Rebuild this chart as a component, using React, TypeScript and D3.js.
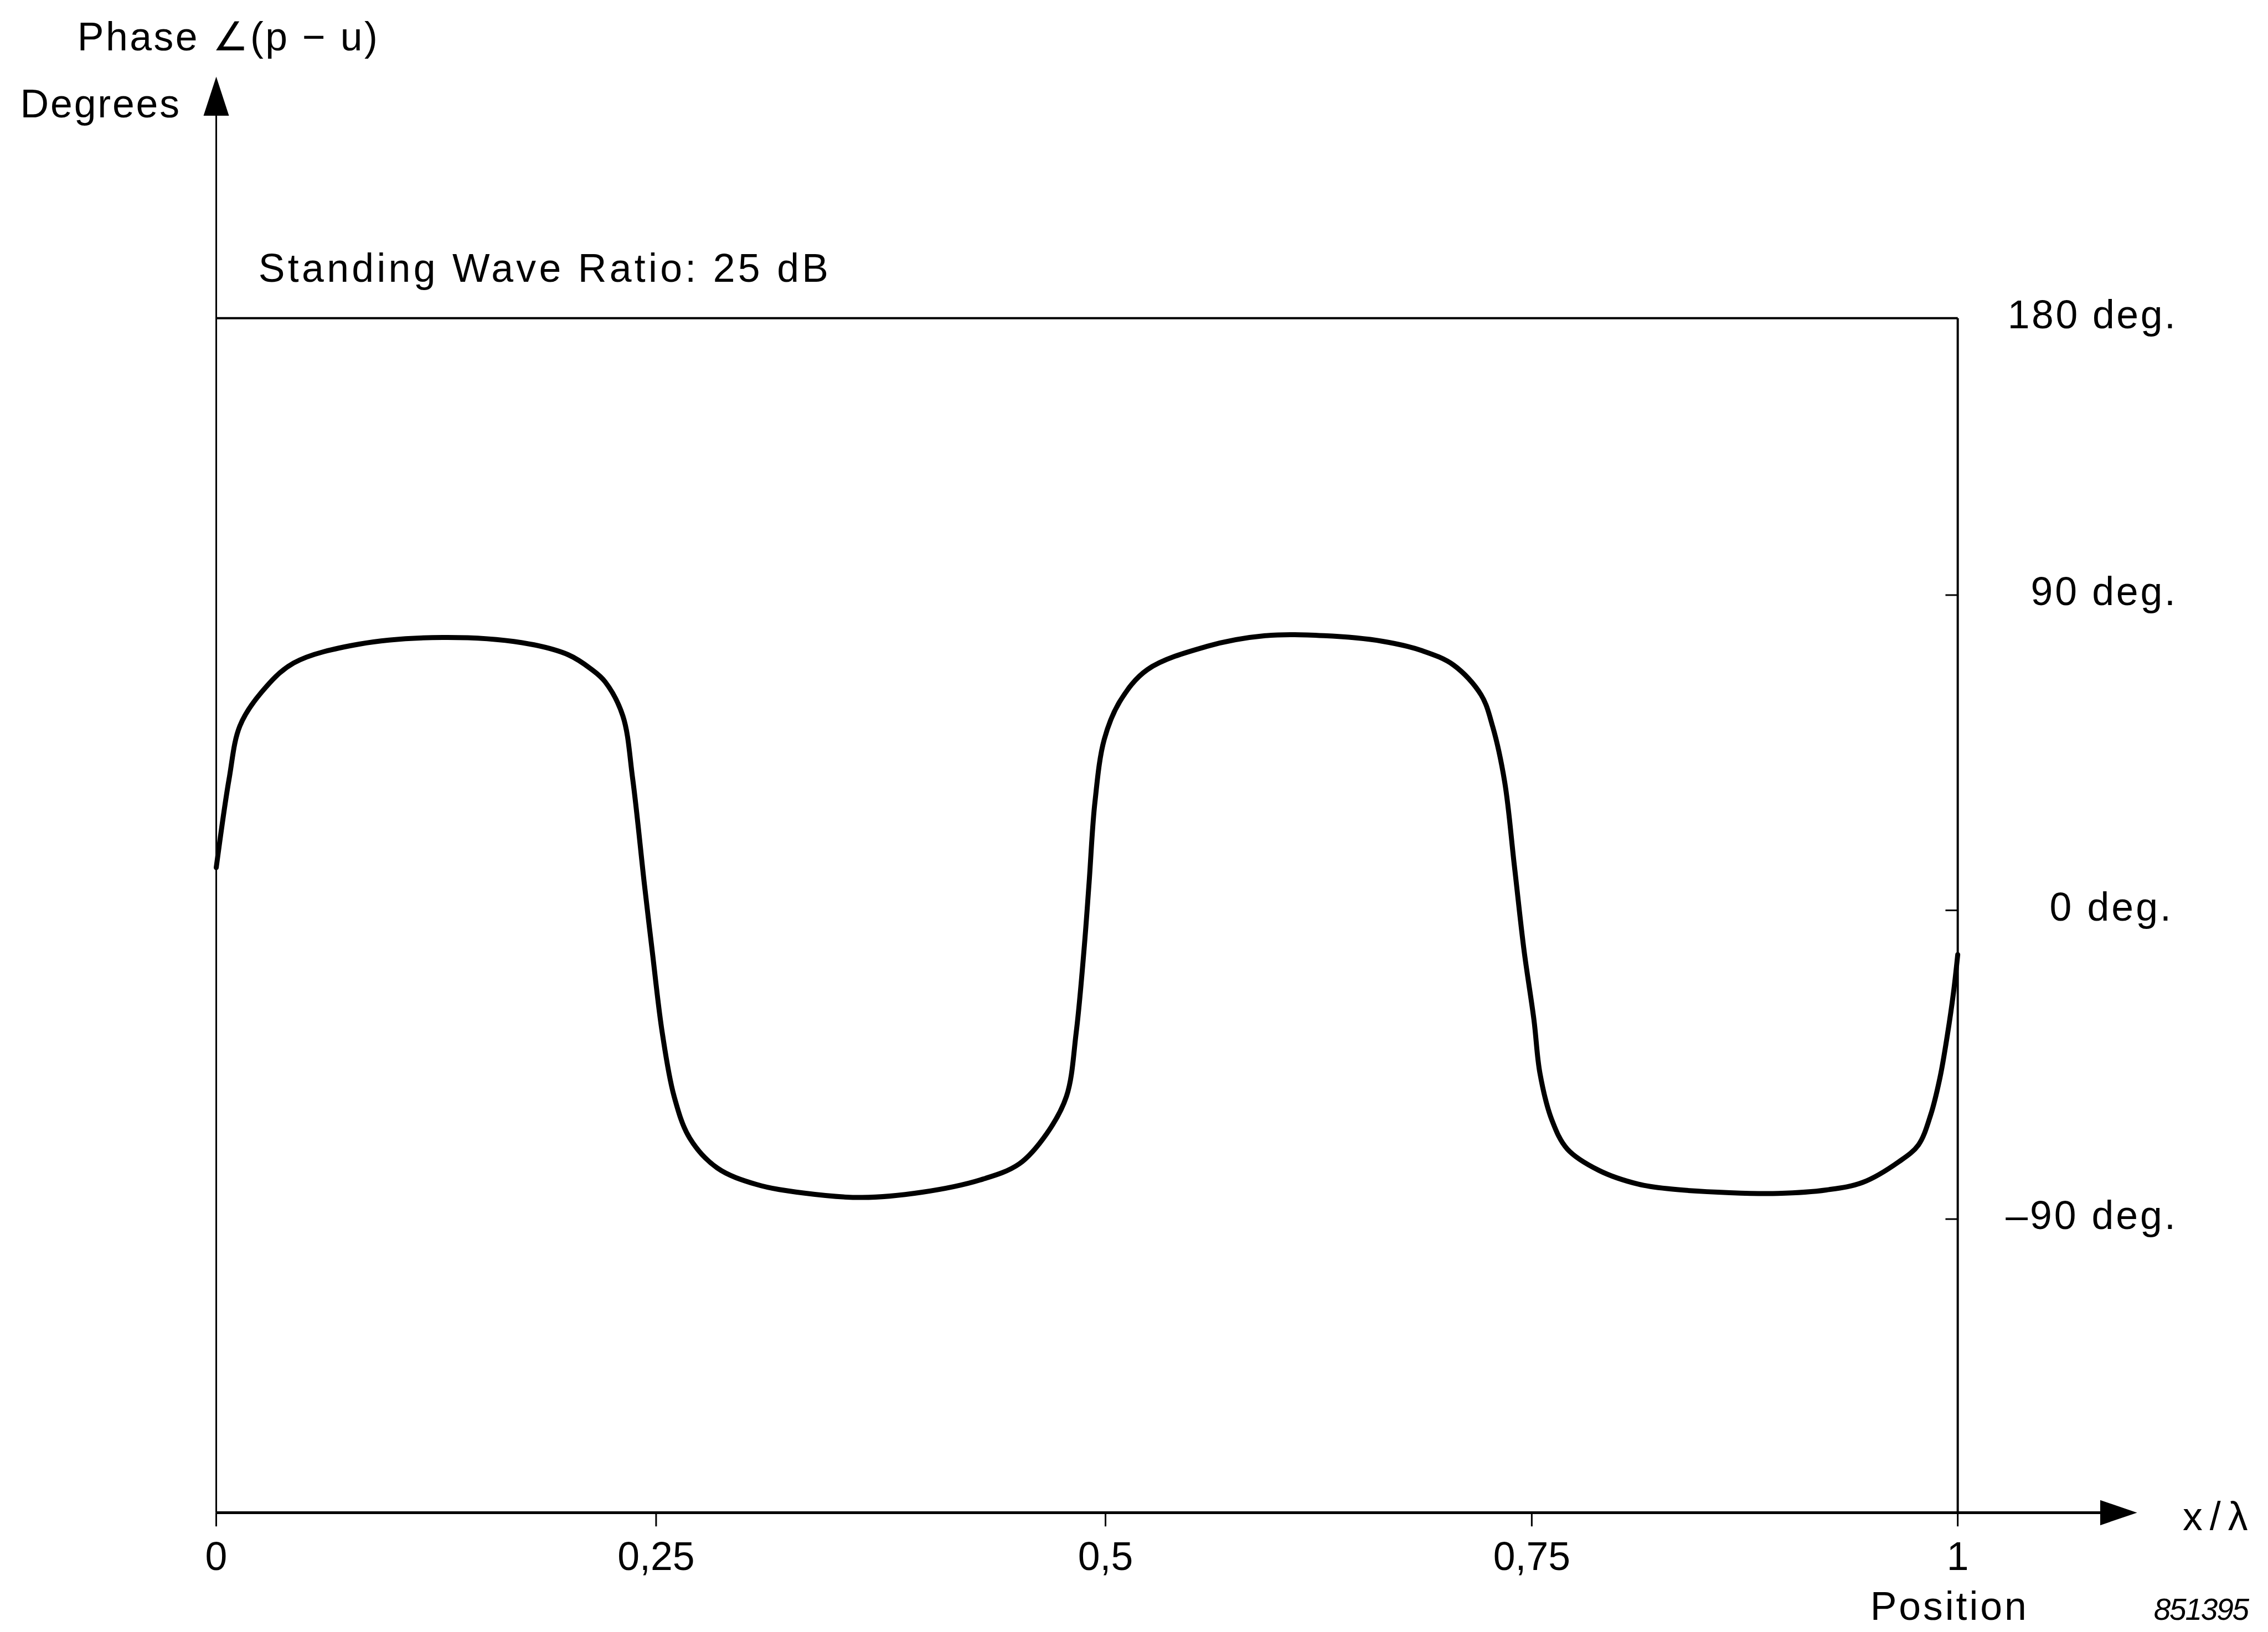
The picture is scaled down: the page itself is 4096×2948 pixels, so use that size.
import React from "react";
import * as d3 from "d3";

// Phase of (p - u) along the line, position in wavelengths (x/λ) and phase in degrees
const positions = [
  0, 0.0073, 0.0134, 0.0256, 0.044, 0.0813, 0.1287, 0.1739, 0.1999, 0.2133,
  0.2211, 0.2311, 0.2367, 0.2434, 0.2479, 0.2534, 0.26, 0.2687, 0.284, 0.3058,
  0.332, 0.3646, 0.3976, 0.4302, 0.452, 0.4673, 0.4783, 0.4837, 0.4881, 0.4909,
  0.4941, 0.4993, 0.5085, 0.5245, 0.5591, 0.5937, 0.6282, 0.6626, 0.6858, 0.7042,
  0.7203, 0.7271, 0.7341, 0.7398, 0.7455, 0.7513, 0.7548, 0.7617, 0.7709, 0.7894,
  0.8124, 0.8309, 0.8663, 0.8947, 0.923, 0.9443, 0.9654, 0.9769, 0.984, 0.9896,
  0.9939, 0.9975, 1.0,
];
const phaseDeg = [
  12.2, 37.5, 52.6, 62.2, 70.6, 76.0, 77.9, 76.4, 73.0, 68.8,
  65.2, 55.5, 37.5, 7.2, -12.3, -35.6, -54.2, -66.4, -75.1, -79.9,
  -82.4, -83.7, -82.2, -78.6, -73.9, -65.1, -54.2, -35.6, -11.2, 8.1,
  30.8, 48.8, 59.7, 68.7, 75.3, 78.4, 78.4, 76.8, 74.1, 70.0,
  61.5, 52.4, 36.7, 12.7, -11.8, -32.0, -47.5, -61.0, -69.6, -75.8,
  -79.8, -81.2, -82.3, -82.5, -81.5, -79.3, -73.3, -68.4, -59.8, -48.7,
  -36.4, -24.0, -12.9,
];

const xTickValues = [0, 0.25, 0.5, 0.75, 1];
const xTickLabels = ["0", "0,25", "0,5", "0,75", "1"];
const yTickValues = [180, 90, 0, -90];
const yTickLabels = ["180 deg.", "90 deg.", "0 deg.", "–90 deg."];
const innerTickValues = [90, 0, -90];

const yAxisTitle = "Phase ∠(p − u)";
const yAxisUnit = "Degrees";
const noteText = "Standing Wave Ratio: 25 dB";
const xAxisSymbol = "x/λ";
const xAxisTitle = "Position";
const figureNumber = "851395";

// Layout, in units of a 1568-wide drawing, scaled up to the page
const W = 4096;
const H = 2948;
const K = W / 1568;
const s = (v: number) => v * K;

const FONT = "'Liberation Sans', Arial, Helvetica, sans-serif";
const FS = s(27.4);

export default function App() {
  // hand-drafted axes: each labelled graduation sits at its drawn place
  const x = d3
    .scaleLinear()
    .domain([0, 0.25, 0.5, 0.75, 1])
    .range([s(149.5), s(453.6), s(764.3), s(1059), s(1353.5)]);
  const y = d3
    .scaleLinear()
    .domain([-180, -90, 0, 90, 180])
    .range([s(1046), s(843), s(629.5), s(411.5), s(220)]);

  const data = positions.map((p, i) => [p, phaseDeg[i]] as [number, number]);
  const line = d3
    .line<[number, number]>()
    .x((d) => x(d[0]))
    .y((d) => y(d[1]))
    .curve(d3.curveCatmullRom.alpha(0.5));

  const x0 = x(0);
  const x1 = x(1);
  const yTop = y(180);
  const yBot = y(-180);

  const labelStarts = [1388, 1404, 1417, 1386.6];
  const labelLens = [116, 100, 84, 117.4];

  return (
    <svg
      width={W}
      height={H}
      viewBox={`0 0 ${W} ${H}`}
      style={{ position: "absolute", left: 0, top: 0, background: "#fff" }}
      fontFamily={FONT}
    >
      <rect x={0} y={0} width={W} height={H} fill="#fff" />

      {/* frame: top border and right edge */}
      <line x1={x0} y1={yTop} x2={x1} y2={yTop} stroke="#000" strokeWidth={4} />
      <line x1={x1} y1={yTop} x2={x1} y2={yBot} stroke="#000" strokeWidth={4} />

      {/* vertical axis with arrow */}
      <line x1={x0} y1={yBot} x2={x0} y2={s(78)} stroke="#000" strokeWidth={3} />
      <path
        d={`M${x0},${s(53)} L${x0 + s(8.8)},${s(80)} L${x0 - s(8.8)},${s(80)} Z`}
        fill="#000"
      />

      {/* horizontal axis with arrow */}
      <line x1={x0} y1={yBot} x2={s(1455)} y2={yBot} stroke="#000" strokeWidth={5} />
      <path
        d={`M${s(1477.5)},${yBot} L${s(1452)},${yBot - s(8.7)} L${s(1452)},${yBot + s(8.7)} Z`}
        fill="#000"
      />

      {/* x ticks and labels */}
      {xTickValues.map((v, i) => (
        <g key={`xt${i}`}>
          <line
            x1={x(v)}
            y1={yBot}
            x2={x(v)}
            y2={yBot + s(9.5)}
            stroke="#000"
            strokeWidth={3}
          />
          <text
            x={x(v)}
            y={s(1085.5)}
            fontSize={FS}
            textAnchor="middle"
            fill="#000"
          >
            {xTickLabels[i]}
          </text>
        </g>
      ))}

      {/* inner ticks on the right edge */}
      {innerTickValues.map((v) => (
        <line
          key={`yt${v}`}
          x1={x1 - s(8.5)}
          y1={y(v)}
          x2={x1}
          y2={y(v)}
          stroke="#000"
          strokeWidth={3}
        />
      ))}

      {/* right-hand degree labels */}
      {yTickValues.map((v, i) => (
        <text
          key={`yl${v}`}
          x={s(labelStarts[i])}
          y={y(v) + s(7)}
          fontSize={FS}
          textLength={s(labelLens[i])}
          lengthAdjust="spacing"
          fill="#000"
        >
          {yTickLabels[i]}
        </text>
      ))}

      {/* phase curve */}
      <path
        d={line(data) ?? ""}
        fill="none"
        stroke="#000"
        strokeWidth={9}
        strokeLinejoin="round"
        strokeLinecap="round"
      />

      {/* titles and notes */}
      <text x={s(53.5)} y={s(35)} fontSize={FS} textLength={s(207.5)} lengthAdjust="spacing" fill="#000">
        {yAxisTitle}
      </text>
      <text x={s(14)} y={s(81)} fontSize={FS} textLength={s(110)} lengthAdjust="spacing" fill="#000">
        {yAxisUnit}
      </text>
      <text x={s(178.7)} y={s(195)} fontSize={FS} textLength={s(394)} lengthAdjust="spacing" fill="#000">
        {noteText}
      </text>
      <text x={s(1509)} y={s(1058)} fontSize={FS} textLength={s(45)} lengthAdjust="spacing" fill="#000">
        {xAxisSymbol}
      </text>
      <text x={s(1293)} y={s(1120)} fontSize={FS} textLength={s(108)} lengthAdjust="spacing" fill="#000">
        {xAxisTitle}
      </text>
      <text
        x={s(1489)}
        y={s(1120)}
        fontSize={s(21)}
        fontStyle="italic"
        textLength={s(66)}
        lengthAdjust="spacing"
        fill="#000"
      >
        {figureNumber}
      </text>
    </svg>
  );
}
